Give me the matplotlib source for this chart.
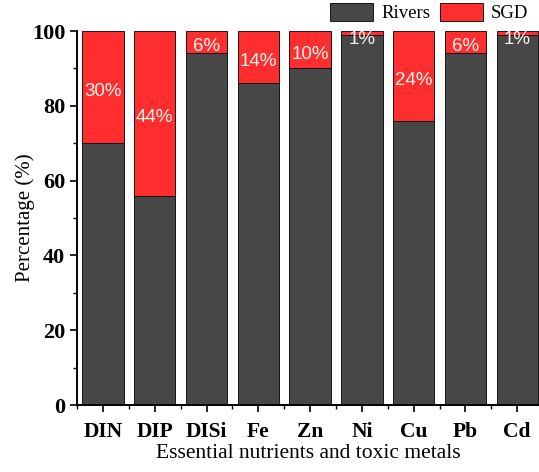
import numpy as np
import matplotlib
matplotlib.use("Agg")
import matplotlib.pyplot as plt
from matplotlib.ticker import MultipleLocator

categories = ["DIN", "DIP", "DISi", "Fe", "Zn", "Ni", "Cu", "Pb", "Cd"]
rivers = [70, 56, 94, 86, 90, 99, 76, 94, 99]
sgd = [30, 44, 6, 14, 10, 1, 24, 6, 1]
sgd_labels = ["30%", "44%", "6%", "14%", "10%", "1%", "24%", "6%", "1%"]

plt.rcParams['font.family'] = ['Liberation Serif', 'DejaVu Serif']

fig = plt.figure(figsize=(5.39, 4.72), dpi=100)
ax = fig.add_axes([0.1429, 0.1419, 0.8571, 0.7924])

x = np.arange(len(categories))
gray = "#474747"
red = "#FF2E2E"
ax.bar(x, rivers, width=0.8, color=gray, edgecolor="black", linewidth=0.6, label="Rivers")
ax.bar(x, sgd, width=0.8, bottom=rivers, color=red, edgecolor="black", linewidth=0.6, label="SGD")

for xi, r, s, lab in zip(x, rivers, sgd, sgd_labels):
    y = r + s / 2 - 1.2
    if s < 5:
        y = 97.8
    ax.text(xi, y, lab, ha="center", va="center", color="#F4F4EC",
            fontsize=13.5, family=["Liberation Sans", "DejaVu Sans"])

ax.set_xlim(-0.5, 8.42)
ax.set_ylim(0, 100)
ax.set_xticks(x)
ax.set_xticklabels(categories, fontsize=15.5, fontweight="bold")
ax.xaxis.set_minor_locator(MultipleLocator(0.5))
ax.yaxis.set_major_locator(MultipleLocator(20))
ax.yaxis.set_minor_locator(MultipleLocator(10))
ax.tick_params(axis="y", labelsize=16, width=1.2, length=5, direction="out")
ax.tick_params(axis="x", width=1.2, length=5, direction="out", pad=7)
ax.tick_params(which="minor", width=1.0, length=3, direction="out")
for t in ax.get_yticklabels():
    t.set_fontweight("bold")

for sp in ["top", "right"]:
    ax.spines[sp].set_visible(False)
for sp in ["left", "bottom"]:
    ax.spines[sp].set_linewidth(1.4)

ax.set_ylabel("Percentage (%)", fontsize=15)
ax.yaxis.set_label_coords(-0.092, 0.5)
ax.set_xlabel("Essential nutrients and toxic metals", fontsize=15.5, labelpad=2)

fig.legend(loc="upper right", bbox_to_anchor=(1.012, 1.03), ncol=2, fontsize=13.5,
           frameon=False, handlelength=2.3, handleheight=1.1, columnspacing=0.5,
           handletextpad=0.45)

fig.savefig("out.png", dpi=100)
